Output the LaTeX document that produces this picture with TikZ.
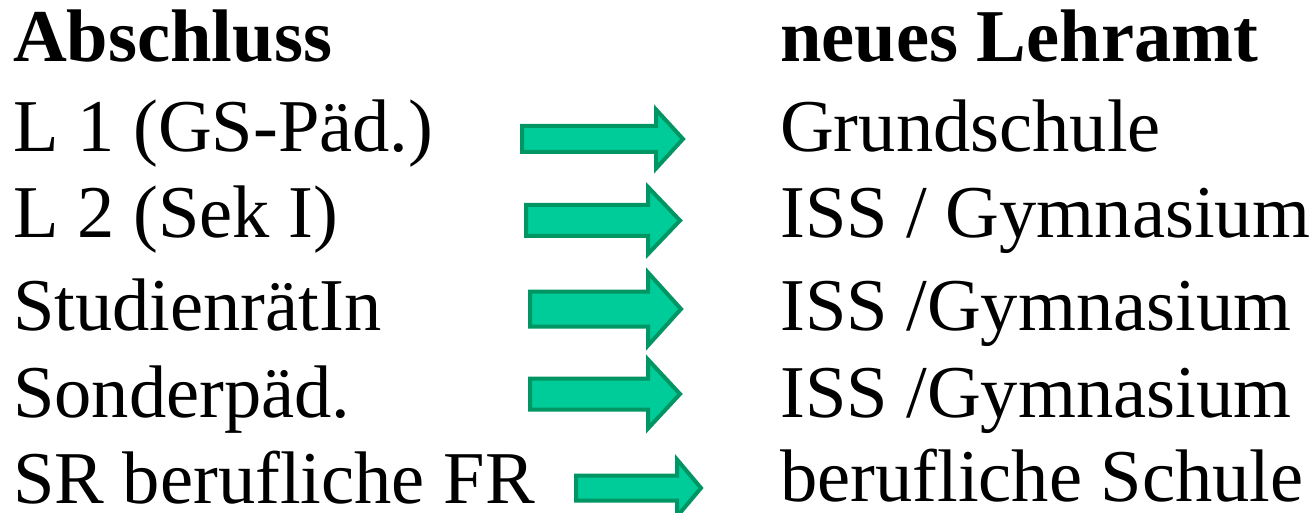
\documentclass[tikz,border=0pt]{standalone}
\usepackage{fontspec}
\setmainfont{Liberation Serif}
\definecolor{arrowfill}{RGB}{0,204,153}
\definecolor{arrowline}{RGB}{0,150,100}
\tikzset{
  lbl/.style={anchor=base west, inner sep=0pt, font=\fontsize{74.5}{88}\selectfont},
  hdr/.style={lbl, font=\fontsize{74.5}{88}\selectfont\bfseries},
  garrow/.style={fill=arrowfill, draw=arrowline, line width=4pt, line join=miter}
}
% #1 left, #2 head base, #3 tip, #4 centre y, #5 body half height, #6 head half height
\newcommand\greenarrow[6]{%
  \draw[garrow] (#1,#4-#5) -- (#2,#4-#5) -- (#2,#4-#6) -- (#3,#4) -- (#2,#4+#6)
    -- (#2,#4+#5) -- (#1,#4+#5) -- cycle;}
\begin{document}
\begin{tikzpicture}[x=1pt,y=-1pt]
\useasboundingbox (0,0) rectangle (1315,513);
\node[hdr] (h1) at (13,62) {Abschluss};
\node[hdr] (h2) at (780,62) {neues Lehramt};
\node[lbl] (a1) at (13,152) {L 1 (GS-Päd.)};
\node[lbl] (a2) at (13,238) {L 2 (Sek I)};
\node[lbl] (a3) at (13,330) {StudienrätIn};
\node[lbl] (a4) at (13,417) {Sonderpäd.};
\node[lbl, text depth=0pt] (a5) at (13,503) {SR berufliche FR};
\node[lbl] (b1) at (780,152) {Grundschule};
\node[lbl] (b2) at (780,238) {ISS / Gymnasium};
\node[lbl] (b3) at (780,330) {ISS /Gymnasium};
\node[lbl] (b4) at (780,417) {ISS /Gymnasium};
\node[lbl, text depth=0pt] (b5) at (780,501) {berufliche Schule};
\greenarrow{522}{656}{683}{139}{13}{29.5}
\greenarrow{526}{648}{680}{220.5}{15.5}{33.5}
\greenarrow{530}{648}{681}{309}{17.5}{36.5}
\greenarrow{530}{648}{680}{394}{15.5}{34.5}
\greenarrow{576}{677}{701}{488}{12.5}{28.5}
\end{tikzpicture}
\end{document}
